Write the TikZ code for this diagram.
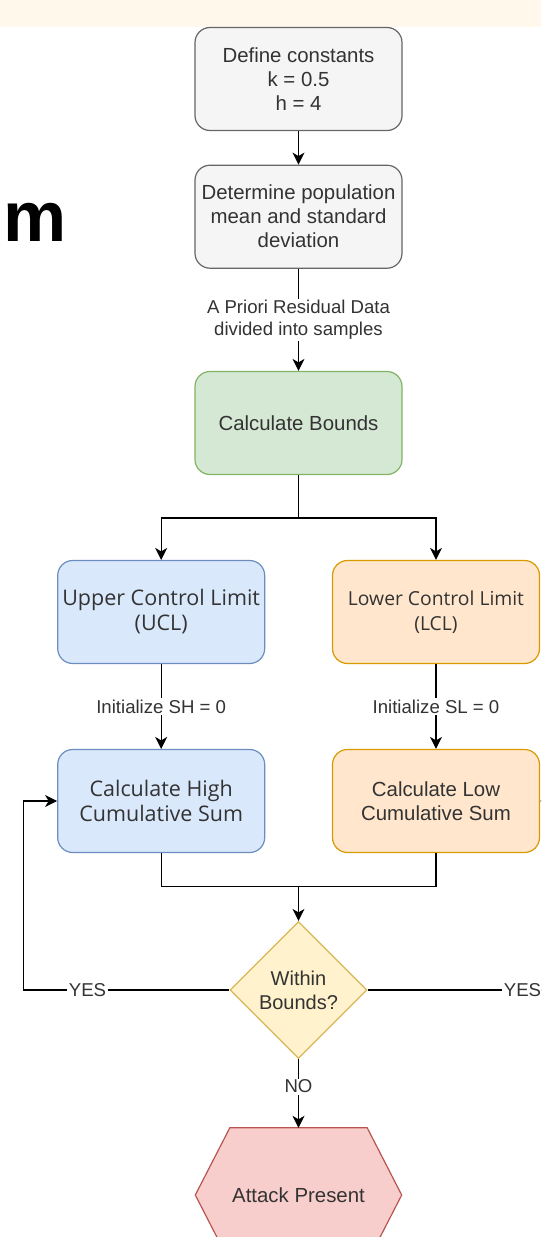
\documentclass[tikz,border=0pt]{standalone}
\usepackage{fontspec}
\setmainfont{Liberation Sans}
\newfontfamily\osans{Open Sans}
\usetikzlibrary{shapes.geometric,arrows.meta,calc}
\definecolor{txt}{HTML}{333333}
\definecolor{cream}{HTML}{FFF8EB}
\definecolor{gfill}{HTML}{F5F5F5}\definecolor{gline}{HTML}{666666}
\definecolor{grfill}{HTML}{D5E8D4}\definecolor{grline}{HTML}{82B366}
\definecolor{bfill}{HTML}{DAE8FC}\definecolor{bline}{HTML}{6C8EBF}
\definecolor{ofill}{HTML}{FFE6CC}\definecolor{oline}{HTML}{D79B00}
\definecolor{yfill}{HTML}{FFF2CC}\definecolor{yline}{HTML}{D6B656}
\definecolor{rfill}{HTML}{F8CECC}\definecolor{rline}{HTML}{B85450}
\begin{document}
\begin{tikzpicture}[x=1pt,y=-1pt,
  box/.style={draw, rounded corners=15pt, minimum width=207pt, minimum height=103pt,
    line width=1.2pt, align=center, text=txt, inner sep=0pt,
    font=\fontsize{20.4}{24}\selectfont},
  graybox/.style={box, fill=gfill, draw=gline},
  greenbox/.style={box, fill=grfill, draw=grline},
  bluebox/.style={box, fill=bfill, draw=bline, font=\osans\fontsize{21.5}{25}\selectfont},
  orangebox/.style={box, fill=ofill, draw=oline},
  lab/.style={fill=white, inner sep=1.5pt, text=txt, align=center,
    font=\fontsize{18.6}{21.7}\selectfont},
  conn/.style={line width=1.3pt, draw=black},
  arr/.style={conn, -{Stealth[length=12pt,width=12pt,inset=3.5pt]}},
]
\useasboundingbox (0,0) rectangle (541,1237);
\clip (0,0) rectangle (541,1237);
\fill[cream] (0,0) rectangle (541,26.7);

\node[anchor=base west, inner sep=0pt, font=\fontsize{71}{80}\selectfont\bfseries] (title) at (3,241.7) {m};

\node[graybox] (b1) at (298.5,79) {Define constants\\k = 0.5\\h = 4};
\node[graybox] (b2) at (298.5,216.7) {Determine population\\mean and standard\\deviation};
\node[greenbox] (cb) at (298.5,423) {Calculate Bounds};
\node[bluebox] (ucl) at (161.2,612) {Upper Control Limit\\(UCL)};
\node[orangebox, font=\osans\fontsize{19.3}{25}\selectfont] (lcl) at (436,612) {Lower Control Limit\\(LCL)};
\node[bluebox] (high) at (161.2,801) {Calculate High\\Cumulative Sum};
\node[orangebox] (low) at (436,801) {Calculate Low\\Cumulative Sum};
\node[diamond, aspect=1, minimum width=137pt, minimum height=137pt, inner sep=0pt,
  fill=yfill, draw=yline, line width=1.2pt, align=center, text=txt,
  font=\fontsize{20}{23.7}\selectfont] (dia) at (298.5,990) {Within\\Bounds?};

% hexagon
\path node[minimum width=206pt, minimum height=134pt, inner sep=0pt] (atk) at (298.5,1195) {};
\draw[fill=rfill, draw=rline, line width=1.2pt]
  (atk.west) -- ($(atk.north west)+(34.5,0)$) -- ($(atk.north east)+(-34.5,0)$)
  -- (atk.east) -- ($(atk.south east)+(-34.5,0)$) -- ($(atk.south west)+(34.5,0)$) -- cycle;
\node[text=txt, font=\fontsize{20.4}{24}\selectfont] (atktext) at (atk) {Attack Present};

% connectors
\draw[arr] (b1) -- (b2);
\draw[arr] (b2) -- node[lab] {A Priori Residual Data\\divided into samples} (cb);
\coordinate (split) at ($(cb.south)+(0,43)$);
\draw[arr] (cb.south) -- (split) -| (ucl.north);
\draw[arr] (split) -| (lcl.north);
\draw[arr] (ucl) -- node[lab] {Initialize SH = 0} (high);
\draw[arr] (lcl) -- node[lab] {Initialize SL = 0} (low);
\coordinate (mrg) at (298.5,886.7);
\draw[conn] (high.south) |- (mrg);
\draw[conn] (low.south) |- (mrg);
\draw[arr] (mrg) -- (dia.north);
\coordinate (lp) at (23.4,990);
\draw[arr] (dia.west) -- (lp) |- (high.west);
\node[lab] (yesl) at (87.5,990) {YES};
\coordinate (rp) at (580,990);
\draw[arr] (dia.east) -- (rp) |- (low.east);
\node[lab] (yesr) at (522.5,990) {YES};
\draw[arr] (dia.south) -- node[lab, pos=0.4] {NO} (atk.north);
\end{tikzpicture}
\end{document}
